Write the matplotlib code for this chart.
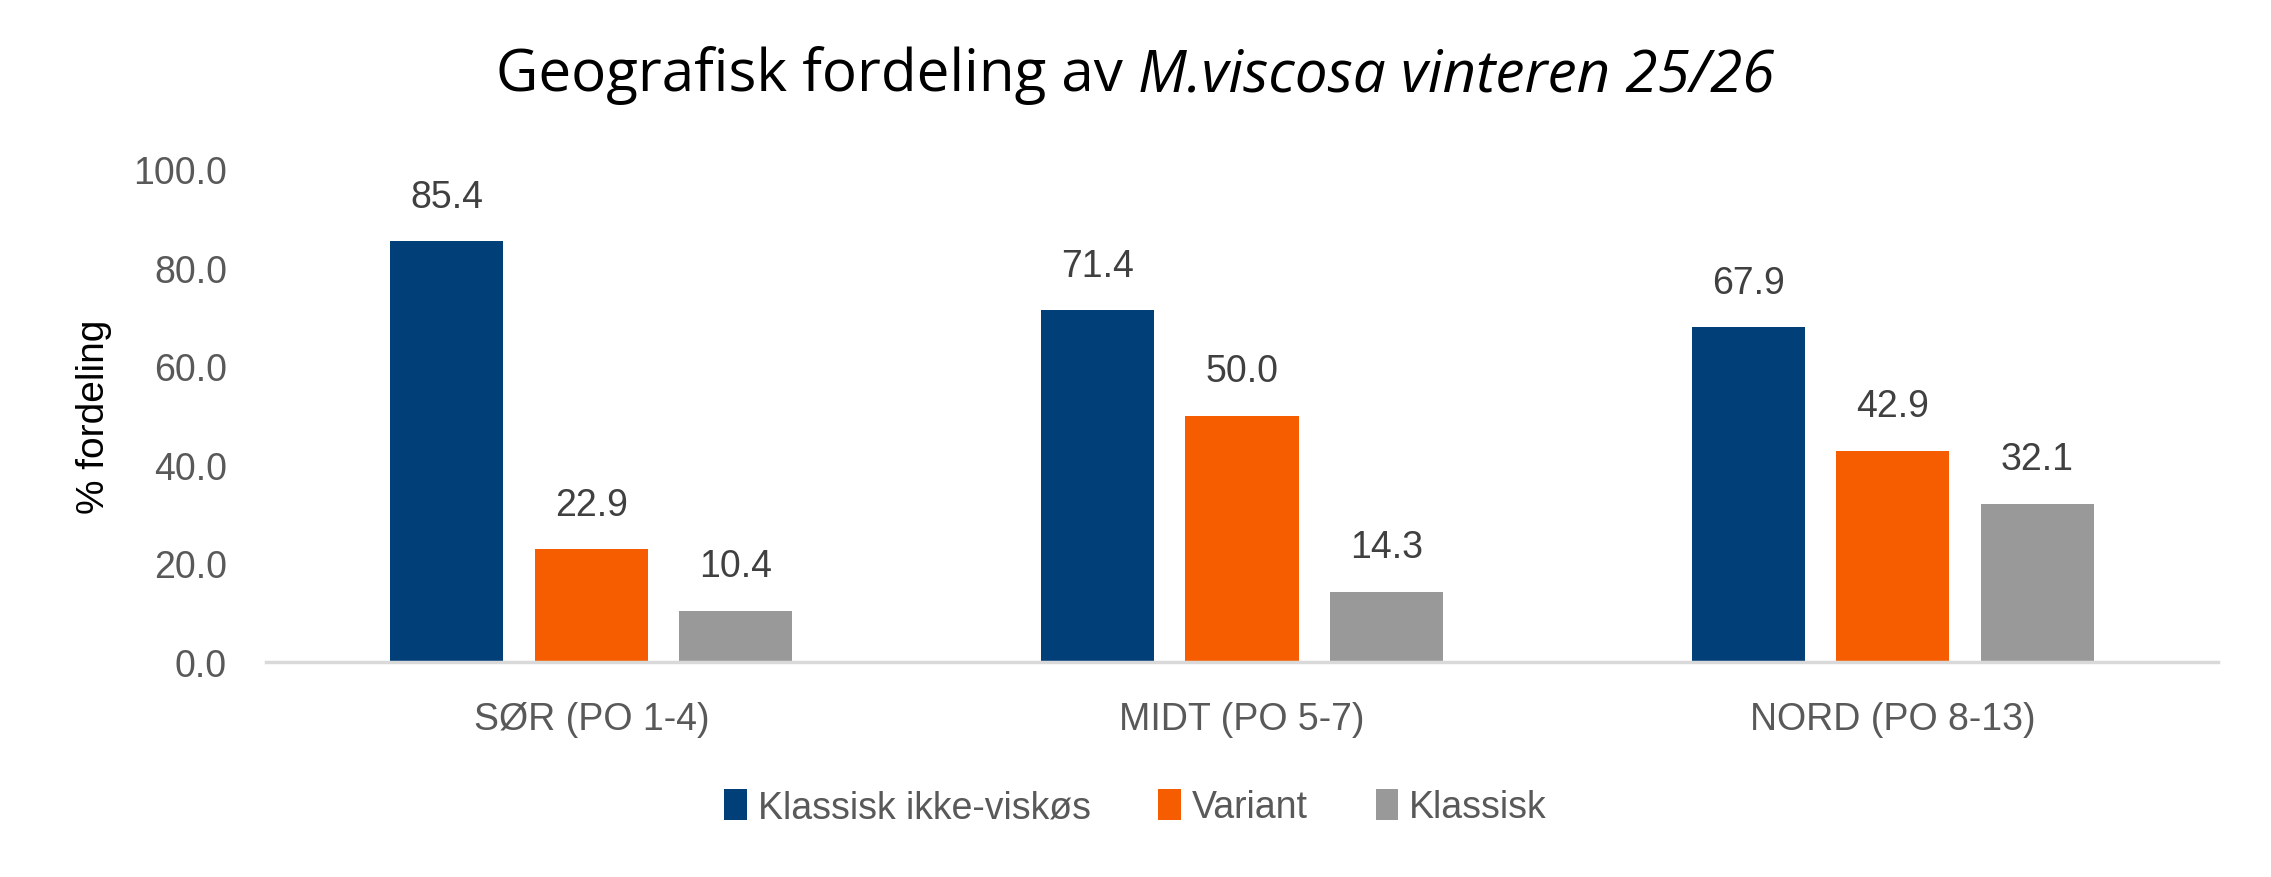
import matplotlib.pyplot as plt
import numpy as np

# data
regions = ['SØR (PO 1-4)', 'MIDT (PO 5-7)', 'NORD (PO 8-13)']
series_names = ['Klassisk ikke-viskøs', 'Variant', 'Klassisk']
klassisk_ikke_viskos = [85.4, 71.4, 67.9]
variant = [22.9, 50.0, 42.9]
klassisk = [10.4, 14.3, 32.1]
y_ticks = [0, 20, 40, 60, 80, 100]

colors = ['#003F77', '#F55D00', '#999999']
values = [klassisk_ikke_viskos, variant, klassisk]

plt.rcParams['font.family'] = ['Liberation Sans', 'DejaVu Sans']

fig = plt.figure(figsize=(22.71, 8.78), dpi=100)
ax = fig.add_axes([266 / 2271, 1 - 663 / 878, (2218 - 266) / 2271, (663 - 170) / 878])

x = np.arange(len(regions))
width = 0.174
step = 0.222
for i, (name, vals, col) in enumerate(zip(series_names, values, colors)):
    pos = x + (i - 1) * step
    bars = ax.bar(pos, vals, width, color=col, label=name, zorder=2)
    for b, v in zip(bars, vals):
        ax.annotate(f'{v:.1f}', (b.get_x() + b.get_width() / 2, v),
                    xytext=(0, 19), textcoords='offset points',
                    ha='center', va='bottom', fontsize=27, color='#404040')

ax.set_xlim(-0.5, 2.5)
ax.set_ylim(0, 100)
ax.set_yticks(y_ticks)
ax.set_yticklabels([f'{t:.1f}' for t in y_ticks])
ax.set_xticks(x)
ax.set_xticklabels(regions)
ax.tick_params(axis='both', length=0, labelsize=27, colors='#595959')
ax.tick_params(axis='y', pad=28)
ax.tick_params(axis='x', pad=28)
for s in ['top', 'right', 'left']:
    ax.spines[s].set_visible(False)
ax.spines['bottom'].set_color('#D9D9D9')
ax.spines['bottom'].set_linewidth(2.5)

ax.set_ylabel('% fordeling', fontsize=28, color='black', labelpad=15)

# title: regular part + italic part, placed side by side and centred
title_y = 1 - 76 / 878
t1 = fig.text(0, title_y, 'Geografisk fordeling av ', ha='left', va='center',
              fontsize=42, color='black', family='Open Sans')
t2 = fig.text(0, title_y, 'M.viscosa vinteren 25/26', ha='left', va='center',
              fontsize=42, color='black', family='Open Sans', style='italic')
fig.canvas.draw()
r = fig.canvas.get_renderer()
w1 = t1.get_window_extent(r).width / fig.bbox.width
w2 = t2.get_window_extent(r).width / fig.bbox.width
x0 = 0.5 - (w1 + w2) / 2
t1.set_x(x0)
t2.set_x(x0 + w1)

fig.legend(loc='center', bbox_to_anchor=(0.5, 1 - 808 / 878), ncol=3, frameon=False,
           fontsize=27, handlelength=0.6, handleheight=0.9, handletextpad=0.3,
           columnspacing=1.8, labelcolor='#595959')

fig.savefig('out.png', dpi=100)
